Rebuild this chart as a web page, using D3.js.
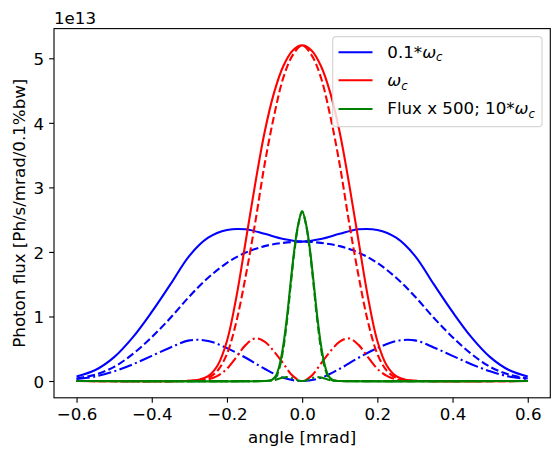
<!DOCTYPE html>
<html><head><meta charset="utf-8">
<script src="https://cdn.jsdelivr.net/npm/d3@7"></script>
<style>
body{margin:0;background:#fff}
svg{display:block}
text{font-family:"DejaVu Sans",sans-serif;fill:#000}
</style>
</head><body>
<svg id="c" width="559" height="459"></svg>
<script>
// ---- data (values in units of 1e13 Ph/s/mrad/0.1%bw) ----
const angleBlue = [-0.6,-0.55,-0.5,-0.45,-0.4,-0.35,-0.3,-0.25,-0.2,-0.15,-0.1,-0.05,0,0.05,0.1,0.15,0.2,0.25,0.3,0.35,0.4,0.45,0.5,0.55,0.6];
const blueTotal = [0.07,0.17,0.37,0.68,1.07,1.50,1.94,2.22,2.34,2.35,2.28,2.20,2.16,2.20,2.28,2.35,2.34,2.22,1.94,1.50,1.07,0.68,0.37,0.17,0.07];
const blueSigma = [0.04,0.10,0.22,0.42,0.68,0.98,1.31,1.60,1.83,1.99,2.09,2.14,2.16,2.14,2.09,1.99,1.83,1.60,1.31,0.98,0.68,0.42,0.22,0.10,0.04];
const bluePi    = [0.03,0.07,0.15,0.26,0.39,0.52,0.63,0.62,0.51,0.36,0.19,0.05,0.00,0.05,0.19,0.36,0.51,0.62,0.63,0.52,0.39,0.26,0.15,0.07,0.03];

const angleRed = [-0.6,-0.3,-0.275,-0.25,-0.225,-0.2,-0.175,-0.15,-0.125,-0.1,-0.075,-0.05,-0.025,0,0.025,0.05,0.075,0.1,0.125,0.15,0.175,0.2,0.225,0.25,0.275,0.3,0.6];
const redTotal = [0,0.004,0.02,0.075,0.24,0.62,1.30,2.17,3.05,3.85,4.46,4.88,5.12,5.20,5.12,4.88,4.46,3.85,3.05,2.17,1.30,0.62,0.24,0.075,0.02,0.004,0];
const redSigma = [0,0.003,0.014,0.05,0.16,0.42,0.92,1.63,2.45,3.35,4.10,4.70,5.05,5.20,5.05,4.70,4.10,3.35,2.45,1.63,0.92,0.42,0.16,0.05,0.014,0.003,0];
const redPi    = [0,0.001,0.006,0.025,0.08,0.19,0.37,0.56,0.66,0.61,0.46,0.27,0.08,0,0.08,0.27,0.46,0.61,0.66,0.56,0.37,0.19,0.08,0.025,0.006,0.001,0];

const angleGreen = [-0.6,-0.1,-0.09,-0.08,-0.07,-0.06,-0.05,-0.04,-0.03,-0.02,-0.01,0,0.01,0.02,0.03,0.04,0.05,0.06,0.07,0.08,0.09,0.1,0.6];
const greenTotal = [0,0,0.005,0.02,0.08,0.25,0.56,1.01,1.56,2.07,2.44,2.63,2.44,2.07,1.56,1.01,0.56,0.25,0.08,0.02,0.005,0,0];
const greenSigma = [0,0,0.003,0.012,0.06,0.21,0.505,0.95,1.51,2.04,2.43,2.63,2.43,2.04,1.51,0.95,0.505,0.21,0.06,0.012,0.003,0,0];
const greenPi    = [0,0,0.002,0.008,0.02,0.04,0.055,0.06,0.05,0.03,0.01,0,0.01,0.03,0.05,0.06,0.055,0.04,0.02,0.008,0.002,0,0];

const xTicks = [-0.6,-0.4,-0.2,0.0,0.2,0.4,0.6];
const xTickLabels = ["\u22120.6","\u22120.4","\u22120.2","0.0","0.2","0.4","0.6"];
const yTicks = [0,1,2,3,4,5];
const yTickLabels = ["0","1","2","3","4","5"];
const legendLabels = [["0.1*","\u03c9","c"],["","\u03c9","c"],["Flux x 500; 10*","\u03c9","c"]];
const colors = {blue:"#0000ff", red:"#ff0000", green:"#008000"};

// ---- layout ----
const FS = 16.67;
const L = 54, R = 550.3, T = 28.6, B = 397.8;
const svg = d3.select("#c");
svg.append("rect").attr("width",559).attr("height",459).attr("fill","#fff");
const x = d3.scaleLinear().domain([-0.66,0.66]).range([L,R]);
const y = d3.scaleLinear().domain([-0.26,5.46]).range([B,T]);

const lw = 2.08;
const dashes = {solid:null, dashed:"7.7,3.33", dashdot:"13.3,3.33,2.08,3.33"};

const series = [
  [angleBlue, blueTotal, colors.blue, "solid"],
  [angleBlue, blueSigma, colors.blue, "dashed"],
  [angleBlue, bluePi, colors.blue, "dashdot"],
  [angleRed, redTotal, colors.red, "solid"],
  [angleRed, redSigma, colors.red, "dashed"],
  [angleRed, redPi, colors.red, "dashdot"],
  [angleGreen, greenTotal, colors.green, "solid"],
  [angleGreen, greenSigma, colors.green, "dashed"],
  [angleGreen, greenPi, colors.green, "dashdot"]
];
const line = d3.line().x(d=>x(d[0])).y(d=>y(Math.max(d[1],0))).curve(d3.curveCatmullRom.alpha(0.5));
const g = svg.append("g");
series.forEach(([ax, vals, col, st]) => {
  g.append("path")
    .datum(ax.map((a,i)=>[a, vals[i]]))
    .attr("d", line)
    .attr("fill","none")
    .attr("stroke", col)
    .attr("stroke-width", lw)
    .attr("stroke-dasharray", dashes[st])
    .attr("stroke-linejoin","round");
});

// ---- axes ----
const xAxis = d3.axisBottom(x).tickValues(xTicks).tickSize(4.86)
  .tickFormat((d,i)=>xTickLabels[i]);
const gx = svg.append("g").attr("transform",`translate(0,${B})`).call(xAxis);
gx.select(".domain").remove();
gx.selectAll(".tick line").attr("stroke","#000").attr("stroke-width",1.11);
gx.selectAll(".tick text").attr("y",22.7).attr("dy",null)
  .attr("font-size",FS).attr("font-family","DejaVu Sans").attr("fill","#000");

const yAxis = d3.axisLeft(y).tickValues(yTicks).tickSize(4.86)
  .tickFormat((d,i)=>yTickLabels[i]);
const gy = svg.append("g").attr("transform",`translate(${L},0)`).call(yAxis);
gy.select(".domain").remove();
gy.selectAll(".tick line").attr("stroke","#000").attr("stroke-width",1.11);
gy.selectAll(".tick text").attr("x",-9.9).attr("dy",6.3)
  .attr("font-size",FS).attr("font-family","DejaVu Sans").attr("fill","#000");

svg.append("rect").attr("x",L).attr("y",T).attr("width",R-L).attr("height",B-T)
  .attr("fill","none").attr("stroke","#000").attr("stroke-width",1.11);

// labels
svg.append("text").attr("x",(L+R)/2).attr("y",443).attr("text-anchor","middle")
  .attr("font-size",FS).text("angle [mrad]");
svg.append("text").attr("transform",`translate(24.5,${(T+B)/2}) rotate(-90)`)
  .attr("text-anchor","middle").attr("font-size",FS).text("Photon flux [Ph/s/mrad/0.1%bw]");
svg.append("text").attr("x",L).attr("y",24).attr("font-size",FS).text("1e13");

// ---- legend ----
const lg = svg.append("g");
lg.append("rect").attr("x",332.7).attr("y",36.7).attr("width",209.3).attr("height",90)
  .attr("rx",3.5).attr("ry",3.5)
  .attr("fill","rgba(255,255,255,0.8)").attr("stroke","rgba(204,204,204,0.8)").attr("stroke-width",1.2);
const legendY = [52.3, 80.2, 109];
const legendBase = [57.7, 86, 114.3];
const legendCols = [colors.blue, colors.red, colors.green];
legendLabels.forEach((lab,i)=>{
  lg.append("line").attr("x1",338.5).attr("x2",372.5)
    .attr("y1",legendY[i]).attr("y2",legendY[i])
    .attr("stroke",legendCols[i]).attr("stroke-width",lw);
  const t = lg.append("text").attr("x",387.3).attr("y",legendBase[i]).attr("font-size",FS);
  if (lab[0]) t.append("tspan").text(lab[0]);
  t.append("tspan").attr("font-style","italic").text(lab[1]);
  t.append("tspan").attr("font-style","italic").attr("font-size",FS*0.7).attr("dy",3.5).text(lab[2]);
});
</script>
</body></html>
